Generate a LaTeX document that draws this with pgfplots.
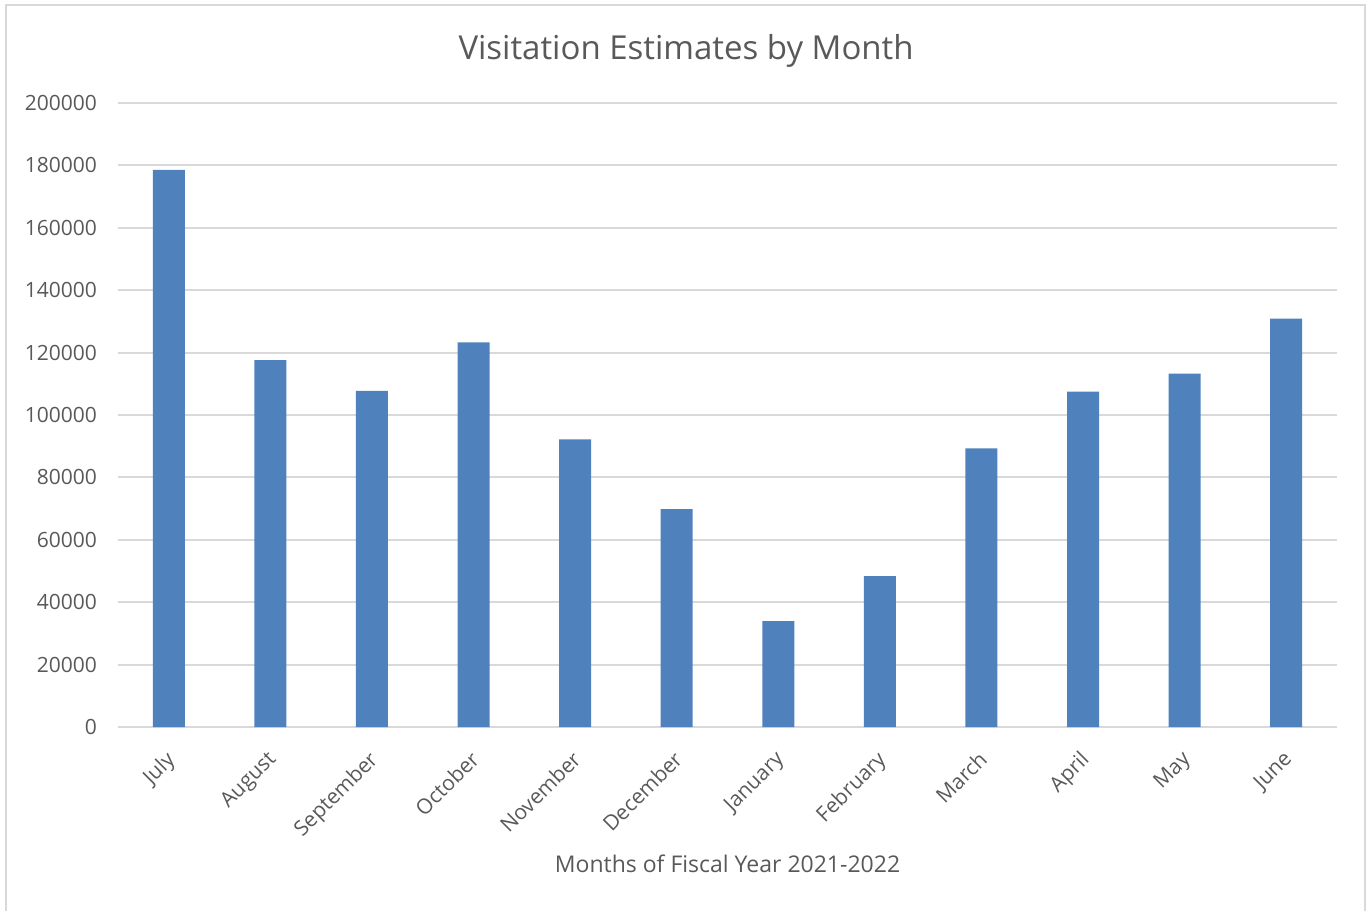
\documentclass[border=0pt]{standalone}
\usepackage{fontspec}
\setmainfont{Open Sans}
\usepackage{pgfplots}
\pgfplotsset{compat=1.18}
\definecolor{barblue}{HTML}{4F81BD}
\definecolor{gridgray}{HTML}{D9D9D9}
\definecolor{txtgray}{HTML}{595959}

\begin{document}
\begin{tikzpicture}
% page frame, 1368x911 px at 0.5pt per px
\path (0,0) rectangle (684pt,455.5pt);
\draw[gridgray,line width=1pt] (3pt,0) -- (3pt,453pt) -- (682.5pt,453pt) -- (682.5pt,0);
\begin{axis}[at={(59pt,92pt)},anchor=south west,
  scale only axis,width=609.5pt,height=312pt,
  ymin=0,ymax=200000,ytick distance=20000,
  xmin=-0.5,xmax=11.5,xtick=data,
  xticklabels={July,August,September,October,November,December,January,February,March,April,May,June},
  axis lines*=left,
  x axis line style={gridgray,line width=1pt},
  y axis line style={draw=none},
  ymajorgrids,grid style={gridgray,line width=1pt},
  major tick length=0pt,
  scaled y ticks=false,
  yticklabel style={/pgf/number format/fixed,/pgf/number format/1000 sep={}},
  /pgf/number format/assume math mode=true,
  tick label style={font=\fontsize{10.5}{12}\selectfont,text=txtgray},
  yticklabel style={anchor=east,xshift=-7pt},
  xticklabel style={rotate=45,anchor=north east,xshift=-6pt,yshift=-3pt},
  title={Visitation Estimates by Month},
  title style={font=\fontsize{16.5}{19}\selectfont,text=txtgray,at={(0.466,1.064)},anchor=center},
  xlabel={Months of Fiscal Year 2021-2022},
  xlabel style={font=\fontsize{11.5}{14}\selectfont,text=txtgray,at={(0.5,-0.2196)},anchor=center},
  clip=false]
\addplot[ybar,bar width=16pt,fill=barblue,draw=none] coordinates {
(0,178600) (1,117560) (2,107700) (3,123300) (4,92200) (5,69870)
(6,33910) (7,48330) (8,89300) (9,107500) (10,113300) (11,130900)};
\end{axis}
\end{tikzpicture}
\end{document}
